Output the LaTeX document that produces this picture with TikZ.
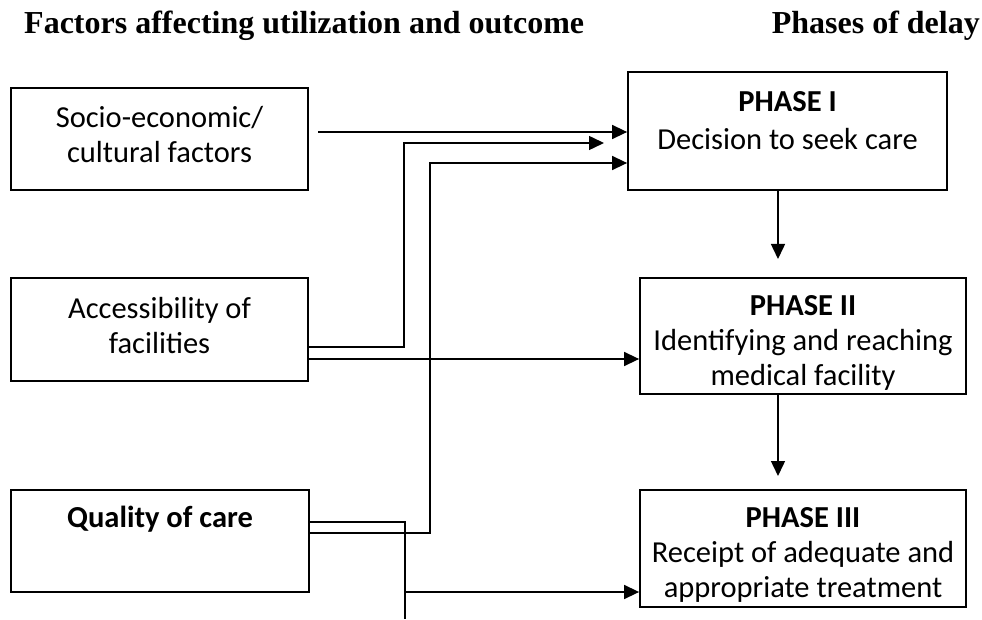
\documentclass[tikz,border=0pt]{standalone}
\usepackage{fontspec}
\setmainfont{Carlito}
\newfontfamily\hdrfont{Liberation Serif}
\usetikzlibrary{arrows.meta}
\begin{document}
\begin{tikzpicture}[x=1pt,y=-1pt,
  boxshape/.style={draw, line width=1.8pt, inner sep=0pt, rectangle},
  txt/.style={anchor=base, inner sep=0pt, font=\fontsize{30.5}{36}\selectfont},
  btxt/.style={anchor=base, inner sep=0pt, font=\fontsize{30.5}{36}\selectfont\bfseries},
  hdr/.style={inner sep=0pt, font=\fontsize{32}{38}\selectfont\hdrfont\bfseries},
  conn/.style={line width=1.5pt},
  arr/.style={line width=1.5pt, -{Triangle[length=15pt,width=14pt]}}]
\useasboundingbox (0,0) rectangle (982,620);

% headers
\node[hdr, anchor=base west] (h1) at (24,34) {Factors affecting utilization and outcome};
\node[hdr, anchor=base east] (h2) at (980,34) {Phases of delay};

% left boxes
\node[boxshape, minimum width=297pt, minimum height=102pt] (socio) at (159.5,139) {};
\node[boxshape, minimum width=297pt, minimum height=103pt] (acc) at (159.5,329.5) {};
\node[boxshape, minimum width=298pt, minimum height=102pt] (qual) at (160,541) {};

% right boxes
\node[boxshape, minimum width=319pt, minimum height=118pt] (p1) at (787.5,131) {};
\node[boxshape, minimum width=326pt, minimum height=116pt] (p2) at (803,336) {};
\node[boxshape, minimum width=326pt, minimum height=117pt] (p3) at (803,548.5) {};

% texts
\node[txt] (s1) at (159.5,128) {Socio-economic/};
\node[txt] (s2) at (159.5,163) {cultural factors};
\node[txt] (a1t) at (159.5,318) {Accessibility of};
\node[txt] (a2t) at (159.5,353) {facilities};
\node[btxt] (q1) at (160,527) {Quality of care};

\node[btxt] (p1a) at (787.5,112) {PHASE I};
\node[txt] (p1b) at (787.5,150) {Decision to seek care};
\node[btxt] (p2a) at (803,316) {PHASE II};
\node[txt] (p2b) at (803,350) {Identifying and reaching};
\node[txt] (p2c) at (803,385) {medical facility};
\node[btxt] (p3a) at (803,527) {PHASE III};
\node[txt] (p3b) at (803,562) {Receipt of adequate and};
\node[txt] (p3c) at (803,597) {appropriate treatment};

% coordinates
\coordinate (k1) at (318,132);
\coordinate (b1) at (404,347);
\coordinate (b2) at (404,143);
\coordinate (b3) at (604,143);
\coordinate (c1) at (430,533);
\coordinate (c2) at (430,163);
\coordinate (d1) at (500,359);
\coordinate (e1) at (405,522);
\coordinate (e2) at (405,619);
\coordinate (e3) at (405,592);
\coordinate (f1) at (778,259);
\coordinate (f2) at (778,476);

% connectors
\draw[arr] (k1) -- (k1 -| p1.west);
\draw[arr] (acc.east |- b1) -- (b1) -- (b2) -- (b3);
\draw[arr] (qual.east |- c1) -- (c1) -- (c2) -- (c2 -| p1.west);
\draw[arr] (acc.east |- d1) -- (d1 -| p2.west);
\draw[conn] (qual.east |- e1) -- (e1) -- (e2);
\draw[arr] (e3) -- (e3 -| p3.west);
\draw[arr] (p1.south -| f1) -- (f1);
\draw[arr] (p2.south -| f2) -- (f2);
\end{tikzpicture}
\end{document}
